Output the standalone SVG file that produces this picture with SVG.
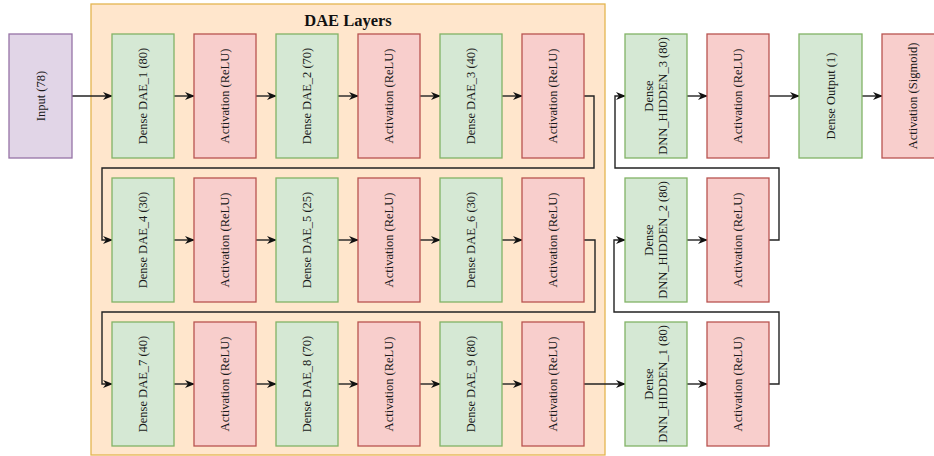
<svg xmlns="http://www.w3.org/2000/svg" width="934" height="456" viewBox="0 0 934 456">
<style>
.g{fill:#d5e8d4;stroke:#82b366;stroke-width:1.3}
.r{fill:#f8cecc;stroke:#b85450;stroke-width:1.3}
.p{fill:#e1d5e7;stroke:#9673a6;stroke-width:1.3}
.t{font-family:"Liberation Serif","Times New Roman",serif;font-size:12.5px;fill:#1a1a1a;text-anchor:middle;dominant-baseline:central}
.c{fill:none;stroke:#222;stroke-width:1.4}
</style>
<defs>
<marker id="a" markerUnits="userSpaceOnUse" markerWidth="10" markerHeight="8" refX="9" refY="4" orient="auto">
<path d="M0,0 L10,4 L0,8 L3,4 z" fill="#111"/>
</marker>
</defs>
<g id="dae-group">
<rect x="91" y="4" width="514" height="451" fill="#ffe6cc" stroke="#e4b550" stroke-width="1.3"/>
<text x="348" y="20" font-family="Liberation Serif, Times New Roman, serif" font-size="16.5" font-weight="bold" fill="#111" text-anchor="middle" dominant-baseline="central">DAE Layers</text>
</g>
<g id="connectors">
<path class="c" d="M72,96 H112" marker-end="url(#a)"/>
<path class="c" d="M174,96 H194" marker-end="url(#a)"/>
<path class="c" d="M256,96 H276" marker-end="url(#a)"/>
<path class="c" d="M338,96 H358" marker-end="url(#a)"/>
<path class="c" d="M420,96 H440" marker-end="url(#a)"/>
<path class="c" d="M502,96 H522" marker-end="url(#a)"/>
<path class="c" d="M584,96 H594 V168 H102 V240 H112" marker-end="url(#a)"/>
<path class="c" d="M174,240 H194" marker-end="url(#a)"/>
<path class="c" d="M256,240 H276" marker-end="url(#a)"/>
<path class="c" d="M338,240 H358" marker-end="url(#a)"/>
<path class="c" d="M420,240 H440" marker-end="url(#a)"/>
<path class="c" d="M502,240 H522" marker-end="url(#a)"/>
<path class="c" d="M584,240 H595 V312 H102 V384 H112" marker-end="url(#a)"/>
<path class="c" d="M174,384 H194" marker-end="url(#a)"/>
<path class="c" d="M256,384 H276" marker-end="url(#a)"/>
<path class="c" d="M338,384 H358" marker-end="url(#a)"/>
<path class="c" d="M420,384 H440" marker-end="url(#a)"/>
<path class="c" d="M502,384 H522" marker-end="url(#a)"/>
<path class="c" d="M584,384 H625" marker-end="url(#a)"/>
<path class="c" d="M687,384 H707" marker-end="url(#a)"/>
<path class="c" d="M769,384 H779 V312 H614 V240 H625" marker-end="url(#a)"/>
<path class="c" d="M687,240 H707" marker-end="url(#a)"/>
<path class="c" d="M769,240 H779 V168 H615 V96 H625" marker-end="url(#a)"/>
<path class="c" d="M687,96 H707" marker-end="url(#a)"/>
<path class="c" d="M769,96 H799" marker-end="url(#a)"/>
<path class="c" d="M862,96 H882" marker-end="url(#a)"/>
</g>
<g id="input"><rect class="p" x="9" y="34" width="63" height="124"/><text class="t" transform="translate(40.5,96) rotate(-90)">Input (78)</text></g>
<g id="dae1"><rect class="g" x="112" y="34" width="62" height="124"/><text class="t" transform="translate(143,96) rotate(-90)">Dense DAE_1 (80)</text></g>
<g id="act1"><rect class="r" x="194" y="34" width="62" height="124"/><text class="t" transform="translate(225,96) rotate(-90)">Activation (ReLU)</text></g>
<g id="dae2"><rect class="g" x="276" y="34" width="62" height="124"/><text class="t" transform="translate(307,96) rotate(-90)">Dense DAE_2 (70)</text></g>
<g id="act2"><rect class="r" x="358" y="34" width="62" height="124"/><text class="t" transform="translate(389,96) rotate(-90)">Activation (ReLU)</text></g>
<g id="dae3"><rect class="g" x="440" y="34" width="62" height="124"/><text class="t" transform="translate(471,96) rotate(-90)">Dense DAE_3 (40)</text></g>
<g id="act3"><rect class="r" x="522" y="34" width="62" height="124"/><text class="t" transform="translate(553,96) rotate(-90)">Activation (ReLU)</text></g>
<g id="dae4"><rect class="g" x="112" y="178" width="62" height="124"/><text class="t" transform="translate(143,240) rotate(-90)">Dense DAE_4 (30)</text></g>
<g id="act4"><rect class="r" x="194" y="178" width="62" height="124"/><text class="t" transform="translate(225,240) rotate(-90)">Activation (ReLU)</text></g>
<g id="dae5"><rect class="g" x="276" y="178" width="62" height="124"/><text class="t" transform="translate(307,240) rotate(-90)">Dense DAE_5 (25)</text></g>
<g id="act5"><rect class="r" x="358" y="178" width="62" height="124"/><text class="t" transform="translate(389,240) rotate(-90)">Activation (ReLU)</text></g>
<g id="dae6"><rect class="g" x="440" y="178" width="62" height="124"/><text class="t" transform="translate(471,240) rotate(-90)">Dense DAE_6 (30)</text></g>
<g id="act6"><rect class="r" x="522" y="178" width="62" height="124"/><text class="t" transform="translate(553,240) rotate(-90)">Activation (ReLU)</text></g>
<g id="dae7"><rect class="g" x="112" y="322" width="62" height="124"/><text class="t" transform="translate(143,384) rotate(-90)">Dense DAE_7 (40)</text></g>
<g id="act7"><rect class="r" x="194" y="322" width="62" height="124"/><text class="t" transform="translate(225,384) rotate(-90)">Activation (ReLU)</text></g>
<g id="dae8"><rect class="g" x="276" y="322" width="62" height="124"/><text class="t" transform="translate(307,384) rotate(-90)">Dense DAE_8 (70)</text></g>
<g id="act8"><rect class="r" x="358" y="322" width="62" height="124"/><text class="t" transform="translate(389,384) rotate(-90)">Activation (ReLU)</text></g>
<g id="dae9"><rect class="g" x="440" y="322" width="62" height="124"/><text class="t" transform="translate(471,384) rotate(-90)">Dense DAE_9 (80)</text></g>
<g id="act9"><rect class="r" x="522" y="322" width="62" height="124"/><text class="t" transform="translate(553,384) rotate(-90)">Activation (ReLU)</text></g>
<g id="dnn1"><rect class="g" x="625" y="322" width="62" height="124"/><text class="t" transform="translate(656,384) rotate(-90)"><tspan x="0" y="-7">Dense</tspan><tspan x="0" y="7">DNN_HIDDEN_1 (80)</tspan></text></g>
<g id="dnnact1"><rect class="r" x="707" y="322" width="62" height="124"/><text class="t" transform="translate(738,384) rotate(-90)">Activation (ReLU)</text></g>
<g id="dnn2"><rect class="g" x="625" y="178" width="62" height="124"/><text class="t" transform="translate(656,240) rotate(-90)"><tspan x="0" y="-7">Dense</tspan><tspan x="0" y="7">DNN_HIDDEN_2 (80)</tspan></text></g>
<g id="dnnact2"><rect class="r" x="707" y="178" width="62" height="124"/><text class="t" transform="translate(738,240) rotate(-90)">Activation (ReLU)</text></g>
<g id="dnn3"><rect class="g" x="625" y="34" width="62" height="124"/><text class="t" transform="translate(656,96) rotate(-90)"><tspan x="0" y="-7">Dense</tspan><tspan x="0" y="7">DNN_HIDDEN_3 (80)</tspan></text></g>
<g id="dnnact3"><rect class="r" x="707" y="34" width="62" height="124"/><text class="t" transform="translate(738,96) rotate(-90)">Activation (ReLU)</text></g>
<g id="out"><rect class="g" x="799" y="34" width="63" height="124"/><text class="t" transform="translate(830.5,96) rotate(-90)">Dense Output (1)</text></g>
<g id="sig"><rect class="r" x="882" y="34" width="62" height="124"/><text class="t" transform="translate(913,96) rotate(-90)">Activation (Sigmoid)</text></g>
</svg>
